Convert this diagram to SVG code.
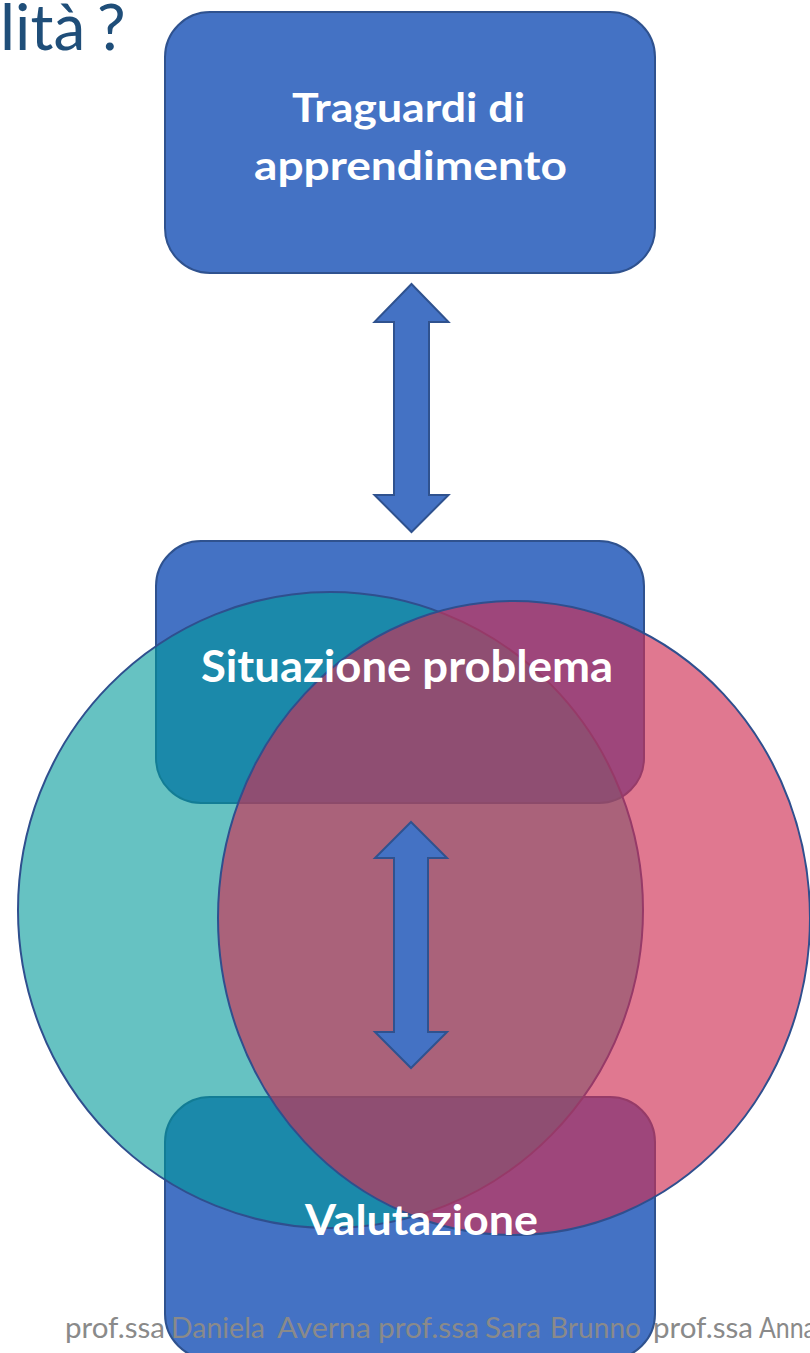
<svg xmlns="http://www.w3.org/2000/svg" width="810" height="1353" viewBox="0 0 810 1353">
  <style>
    .box { fill: #4472C4; stroke: #2F528F; stroke-width: 2; }
    .label { font-family: Lato, "Liberation Sans", sans-serif; font-weight: 700; fill: #FFFFFF; text-anchor: start; }
    .arrow { fill: #4472C4; stroke: #2F528F; stroke-width: 2; stroke-linejoin: miter; }
    .teal { fill: #009A9A; fill-opacity: 0.6; stroke: #2F4F8E; stroke-width: 2; }
    .pink { fill: #CF2E54; fill-opacity: 0.647; stroke: #2F4F8E; stroke-width: 2; }
    .footer { font-family: Lato, "Liberation Sans", sans-serif; font-size: 28px; fill: #8A8A8A; }
    .title { font-family: Lato, "Liberation Sans", sans-serif; font-size: 64px; fill: #1F4E79; }
  </style>

  <!-- heading, cut by the left edge -->
  <text class="title" x="0" y="50">lità<tspan x="97">?</tspan></text>

  <!-- top node -->
  <g id="node-traguardi">
    <rect class="box" x="165" y="12" width="490" height="261" rx="45" ry="45"/>
    <text class="label" font-size="41" x="292" y="122" textLength="233" lengthAdjust="spacingAndGlyphs">Traguardi di</text>
    <text class="label" font-size="41" x="254" y="180" textLength="313" lengthAdjust="spacingAndGlyphs">apprendimento</text>
  </g>

  <!-- middle node body -->
  <g id="node-situazione">
    <rect class="box" x="156" y="541" width="488" height="262" rx="45" ry="45"/>
  </g>

  <!-- bottom node body -->
  <g id="node-valutazione">
    <rect class="box" x="165" y="1097" width="490" height="262" rx="45" ry="45"/>
  </g>

  <!-- overlapping translucent circles -->
  <g id="venn">
    <ellipse class="teal" cx="330.5" cy="910" rx="312.5" ry="318"/>
    <ellipse class="pink" cx="514" cy="918" rx="296" ry="317"/>
  </g>

  <!-- double-headed block arrows -->
  <g id="connectors">
    <path class="arrow" d="M411.5,284 L448.5,322 L429,322 L429,495 L448.5,495 L411.5,532 L374.5,495 L394,495 L394,322 L374.5,322 Z"/>
    <path class="arrow" d="M411,822 L447,858 L428,858 L428,1032 L447,1032 L411,1068 L375,1032 L394,1032 L394,858 L375,858 Z"/>
  </g>

  <!-- node labels drawn above the circles -->
  <g id="node-situazione-label">
    <text class="label" font-size="43" x="201" y="682" textLength="412" lengthAdjust="spacingAndGlyphs">Situazione problema</text>
  </g>
  <g id="node-valutazione-label">
    <text class="label" font-size="42" x="305" y="1235" textLength="233" lengthAdjust="spacingAndGlyphs">Valutazione</text>
  </g>

  <!-- footer credits, one word per run so spacing stays tight -->
  <g id="footer" class="footer">
    <text x="65" y="1338" textLength="100" lengthAdjust="spacingAndGlyphs">prof.ssa</text>
    <text x="171" y="1338" textLength="94" lengthAdjust="spacingAndGlyphs">Daniela</text>
    <text x="277" y="1338" textLength="94" lengthAdjust="spacingAndGlyphs">Averna</text>
    <text x="378" y="1338" textLength="101" lengthAdjust="spacingAndGlyphs">prof.ssa</text>
    <text x="485" y="1338" textLength="56" lengthAdjust="spacingAndGlyphs">Sara</text>
    <text x="550" y="1338" textLength="91" lengthAdjust="spacingAndGlyphs">Brunno</text>
    <text x="653" y="1338" textLength="100" lengthAdjust="spacingAndGlyphs">prof.ssa</text>
    <text x="759" y="1338" textLength="57" lengthAdjust="spacingAndGlyphs">Anna</text>
  </g>
</svg>
